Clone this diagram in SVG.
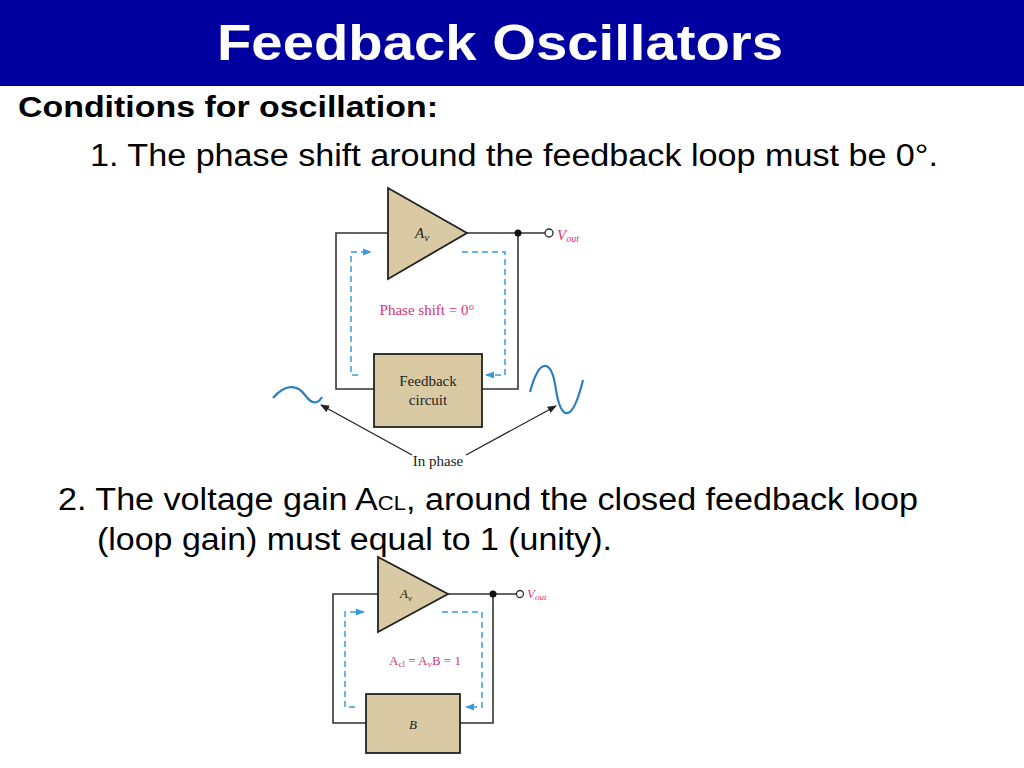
<svg xmlns="http://www.w3.org/2000/svg" width="1024" height="768" viewBox="0 0 1024 768">
<defs>
<style>
.w{fill:none;stroke:#333;stroke-width:1.6}
.d{fill:none;stroke:#3a9ad9;stroke-width:1.5;stroke-dasharray:6,4}
.tan{fill:#d9caa3;stroke:#222;stroke-width:1.8}
.s{font-family:"Liberation Serif",serif;fill:#222}
.m{font-family:"Liberation Serif",serif;fill:#d6337a}
.t{font-family:"Liberation Sans",Arial,sans-serif;fill:#000}
</style>
<marker id="ba" viewBox="0 0 10 10" refX="9" refY="5" markerWidth="6" markerHeight="6" orient="auto"><path d="M0,1L10,5L0,9z" fill="#3a9ad9"/></marker>
<marker id="ka" viewBox="0 0 10 10" refX="9" refY="5" markerWidth="7" markerHeight="7" orient="auto"><path d="M0,1L10,5L0,9z" fill="#222"/></marker>
</defs>
<rect x="0" y="0" width="1024" height="86" fill="#0000a0"/>
<text x="217" y="60" textLength="566" lengthAdjust="spacingAndGlyphs" font-family="Liberation Sans,Arial,sans-serif" font-weight="bold" font-size="50" fill="#fff">Feedback Oscillators</text>
<text x="18" y="117" class="t" font-size="29" font-weight="bold" textLength="420" lengthAdjust="spacingAndGlyphs">Conditions for oscillation:</text>
<text x="90" y="166" class="t" font-size="31" textLength="848" lengthAdjust="spacingAndGlyphs">1. The phase shift around the feedback loop must be 0°.</text>
<text x="58" y="510" class="t" font-size="31" textLength="860" lengthAdjust="spacingAndGlyphs">2. The voltage gain A<tspan font-size="20">CL</tspan>, around the closed feedback loop</text>
<text x="97" y="550" class="t" font-size="31" textLength="515" lengthAdjust="spacingAndGlyphs">(loop gain) must equal to 1 (unity).</text>
<g id="connectors">
<path class="w" d="M388,233H336V389H374M482,389H518V233H467M518,233H545"/>
<circle cx="549" cy="233" r="4" fill="#fff" stroke="#333" stroke-width="1.4"/>
<circle cx="518" cy="233" r="3.5" fill="#111"/>
<path class="d" d="M358,375H351V252H371" marker-end="url(#ba)"/>
<path class="d" d="M462,252H505V375H486" marker-end="url(#ba)"/>
<path d="M273,398C285,384 297,384 305,395C312,405 318,404 322,397" fill="none" stroke="#2b7fc0" stroke-width="2.2"/>
<path d="M530,392C540,355 552,360 556,390C561,420 572,425 583,380" fill="none" stroke="#2b7fc0" stroke-width="2.2"/>
<path d="M412,455L321,405" stroke="#222" stroke-width="1.3" marker-end="url(#ka)"/>
<path d="M466,455L556,406" stroke="#222" stroke-width="1.3" marker-end="url(#ka)"/>
<path class="w" d="M378,594H333V723H366M460,723H493V594H448M493,594H516"/>
<circle cx="520" cy="594" r="3.5" fill="#fff" stroke="#333" stroke-width="1.3"/>
<circle cx="493" cy="594" r="3.5" fill="#111"/>
<path class="d" d="M355,707H345V612H364" marker-end="url(#ba)"/>
<path class="d" d="M442,612H482V707H466" marker-end="url(#ba)"/>
</g>
<g id="amp1"><path class="tan" d="M388,188L388,279L467,233z"/><text x="415" y="238" class="s" font-size="15" font-style="italic">A<tspan font-size="11" dy="3">v</tspan></text></g>
<text x="557" y="240" class="m" font-size="15" font-style="italic">V<tspan font-size="10" dy="2">out</tspan></text>
<text x="427" y="315" class="m" font-size="15" text-anchor="middle">Phase shift = 0°</text>
<g id="fb1"><rect class="tan" x="374" y="354" width="108" height="73"/><text x="428" y="386" class="s" font-size="15" text-anchor="middle">Feedback</text><text x="428" y="405" class="s" font-size="15" text-anchor="middle">circuit</text></g>
<text x="438" y="466" class="s" font-size="15" text-anchor="middle">In phase</text>
<g id="amp2"><path class="tan" d="M378,557L378,632L448,594z"/><text x="400" y="598" class="s" font-size="13" font-style="italic">A<tspan font-size="9" dy="3">v</tspan></text></g>
<text x="527" y="598" class="m" font-size="13" font-style="italic">V<tspan font-size="9" dy="2">out</tspan></text>
<text x="425" y="665" class="m" font-size="13" text-anchor="middle">A<tspan font-size="9" dy="2">cl</tspan><tspan dy="-2"> = A</tspan><tspan font-size="9" dy="2">v</tspan><tspan dy="-2">B = 1</tspan></text>
<g id="fb2"><rect class="tan" x="366" y="694" width="94" height="59"/><text x="413" y="729" class="s" font-size="13" font-style="italic" text-anchor="middle">B</text></g>
</svg>
